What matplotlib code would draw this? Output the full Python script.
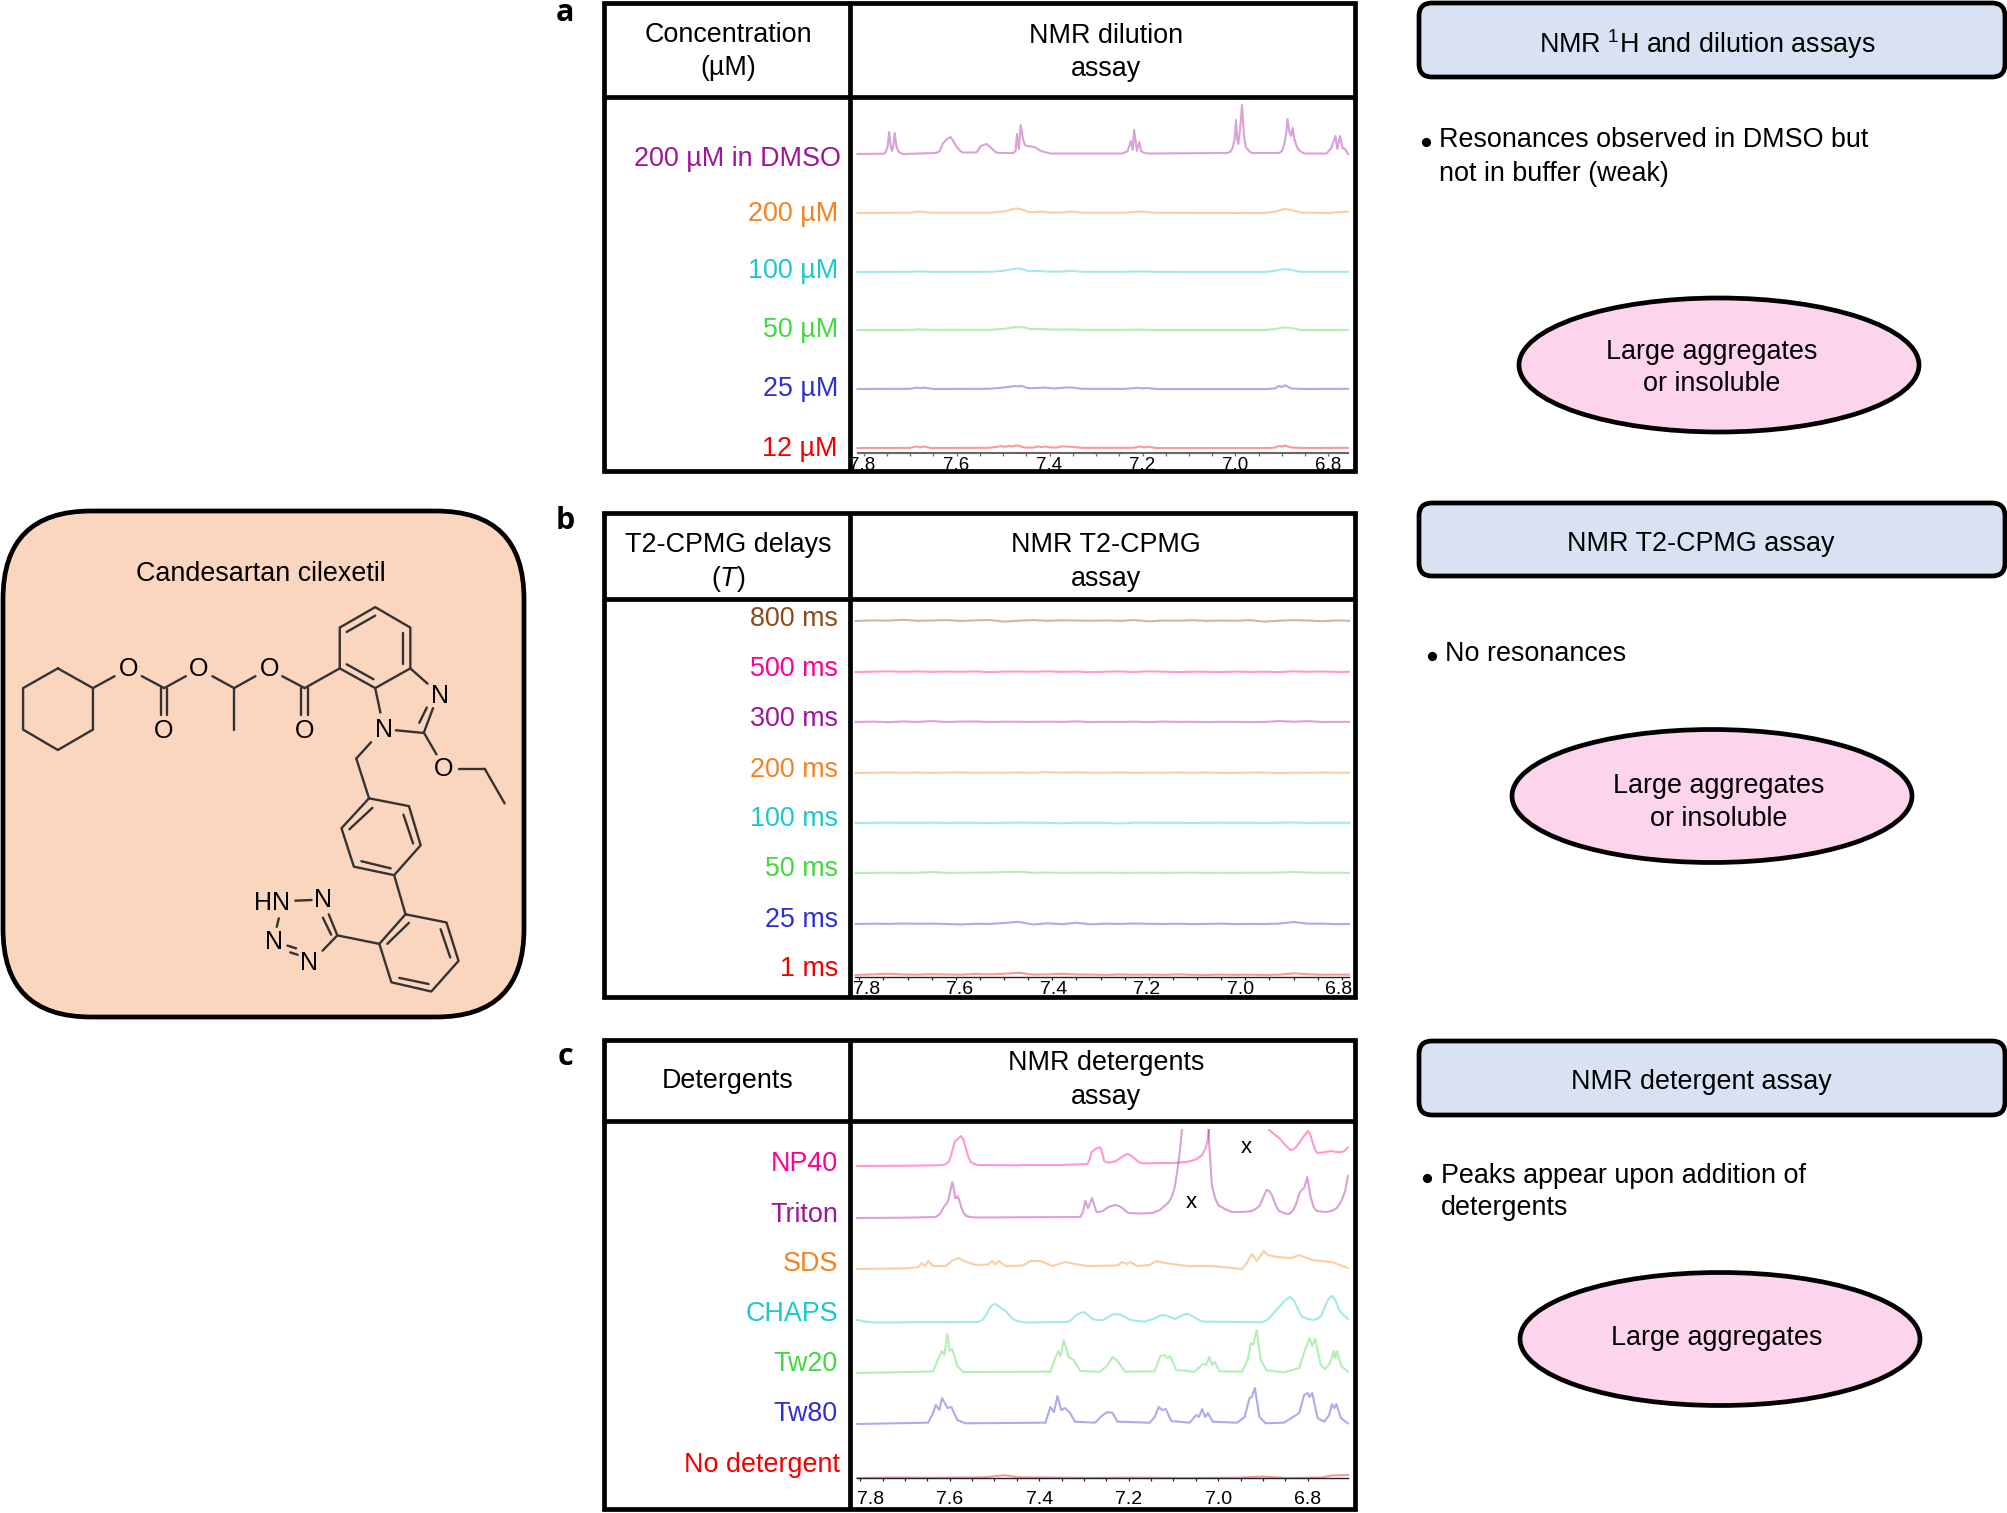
import matplotlib
matplotlib.use("Agg")
import numpy as np
import matplotlib.pyplot as plt
from matplotlib.patches import FancyBboxPatch, Ellipse, Rectangle

plt.rcParams['font.family'] = ['Liberation Sans', 'DejaVu Sans']
plt.rcParams['mathtext.fontset'] = 'custom'
plt.rcParams['mathtext.rm'] = 'Liberation Sans'
plt.rcParams['mathtext.it'] = 'Liberation Sans:italic'
plt.rcParams['mathtext.default'] = 'regular'

nan = float('nan')
PURPLE, ORANGE, CYAN, GREEN, BLUE, RED, PINK, BROWN = (
    '#A0149B', '#F5821F', '#1CC8C8', '#41D841', '#3030D0', '#F00000', '#FF0090', '#8B4A1E')

# ---------- Panel a: dilution ----------
a_labels = ['200 µM in DMSO', '200 µM', '100 µM', '50 µM', '25 µM', '12 µM']
a_colors = [PURPLE, ORANGE, CYAN, GREEN, BLUE, RED]
a_base = [154, 213, 272, 330, 389, 448]
a_label_y = [157, 212, 269, 328, 387, 447]

dmso_ppm = [7.813, 7.756, 7.752, 7.748, 7.745, 7.742, 7.739, 7.736, 7.733, 7.729, 7.724, 7.716, 7.644, 7.636, 7.630, 7.621, 7.613, 7.607, 7.601, 7.594, 7.587,
            7.558, 7.553, 7.548, 7.535, 7.523, 7.516, 7.510, 7.478, 7.473, 7.470, 7.466, 7.462, 7.457, 7.453, 7.448, 7.432, 7.419, 7.398, 7.243, 7.232,
            7.225, 7.221, 7.218, 7.212, 7.207, 7.203, 7.198, 7.192, 7.185, 7.018, 7.012, 7.007, 7.002, 6.999, 6.996, 6.994, 6.990, 6.986, 6.982, 6.978, 6.971, 6.965, 6.906,
            6.900, 6.895, 6.891, 6.888, 6.884, 6.880, 6.877, 6.873, 6.866, 6.858, 6.852, 6.804, 6.794, 6.785, 6.781, 6.775, 6.770, 6.764, 6.758]
dmso_h = [0, 0.3, 2, 8, 22, 9, 3, 8, 21, 7, 2, 0, 1, 3, 10, 15, 17, 13, 8, 4, 1.5,
          1.5, 4, 8, 10, 5, 2, 1, 1, 3, 20, 5, 29, 15, 9, 8, 7, 3, 0.5, 0.5, 3,
          13, 4, 24, 3, 12, 3, 1.5, 0.7, 0.5, 1, 2, 5, 14, 34, 14, 10, 25, 49, 20, 7, 3, 1, 1,
          3, 10, 20, 35, 22, 18, 26, 14, 5, 2, 0.5, 0.5, 6, 18, 5, 18, 6, 5, 0]
c200_ppm = [7.813, 7.70, 7.681, 7.655, 7.53, 7.499, 7.473, 7.462, 7.445, 7.43, 7.419, 7.40, 7.375, 7.355, 7.33,
            7.24, 7.205, 7.17, 6.94, 6.917, 6.895, 6.884, 6.86, 6.80, 6.758]
c200_h = [0, 0.3, 1.5, 0.3, 0.3, 1.5, 4.5, 4, 1, 1, 1.5, 0.5, 0.3, 1.5, 0.3,
          0.3, 1.5, 0.2, 0, 1, 4, 3.5, 0.5, 0, 1.5]
c100_ppm = [7.813, 7.70, 7.681, 7.655, 7.53, 7.499, 7.473, 7.462, 7.445, 7.42, 7.40, 7.375, 7.355, 7.33,
            7.24, 7.205, 7.17, 6.94, 6.917, 6.895, 6.884, 6.86, 6.758]
c100_h = [0, 0.2, 0.7, 0.1, 0.2, 1.2, 3.5, 3.2, 0.8, 1, 0.3, 0.3, 1.2, 0.2,
          0.2, 0.6, 0.1, 0, 1, 3, 2.5, 0.2, 0.2]
c50_ppm = [7.813, 7.70, 7.681, 7.655, 7.53, 7.499, 7.473, 7.455, 7.44, 7.42, 7.39, 7.355, 7.33,
           7.24, 7.205, 7.17, 6.94, 6.917, 6.895, 6.88, 6.86, 6.758]
c50_h = [0, 0.1, 0.6, 0.1, 0.2, 1, 3, 2.6, 0.8, 1, 0.4, 0.6, 0.1,
         0.1, 0.4, 0, 0, 0.8, 2.6, 2, 0, 0.1]
c25_ppm = [7.813, 7.70, 7.686, 7.678, 7.671, 7.65, 7.53, 7.505, 7.49, 7.483, 7.473, 7.467, 7.462, 7.445, 7.425,
           7.41, 7.39, 7.365, 7.352, 7.33, 7.24, 7.21, 7.20, 7.19, 7.17, 6.93, 6.915, 6.907, 6.90, 6.894, 6.88,
           6.85, 6.758]
c25_h = [0, 0.2, 1.5, 0.8, 1.5, 0, 0.2, 1.2, 2, 2.5, 3, 2.5, 3.2, 0.8, 1,
         1.5, 0.5, 1.5, 1.5, 0.2, 0.1, 1.2, 0.6, 1, 0, 0, 0.6, 3, 2, 3.7, 0.5,
         0, 0.2]
c12_ppm = [7.813, 7.70, 7.686, 7.678, 7.671, 7.655, 7.53, 7.514, 7.504, 7.495, 7.487, 7.480, 7.474, 7.467, 7.455,
           7.435, 7.424, 7.417, 7.41, 7.40, 7.385, 7.375, 7.365, 7.358, 7.33, 7.22, 7.205, 7.197, 7.187, 7.17,
           6.93, 6.915, 6.907, 6.90, 6.894, 6.88, 6.85, 6.758]
c12_h = [0, 0.1, 1.6, 0.7, 1.6, 0, 0.2, 1.2, 1.8, 1.2, 2.2, 1.4, 2.4, 2.4, 0.5,
         0.4, 1.6, 0.7, 1.6, 0.7, 0.4, 1.6, 1.4, 1.4, 0.2, 0.2, 1.5, 0.5, 1.3, 0,
         0, 0.4, 2, 1.4, 2.6, 0.5, 0, 0.2]
a_spectra = [(dmso_ppm, dmso_h), (c200_ppm, c200_h), (c100_ppm, c100_h),
             (c50_ppm, c50_h), (c25_ppm, c25_h), (c12_ppm, c12_h)]
a_tick_labels = ['7.8', '7.6', '7.4', '7.2', '7.0', '6.8']
a_label_ppm = [7.802, 7.6, 7.4, 7.2, 7.0, 6.8]

# ---------- Panel b: T2-CPMG ----------
b_labels = ['800 ms', '500 ms', '300 ms', '200 ms', '100 ms', '50 ms', '25 ms', '1 ms']
b_colors = [BROWN, PINK, PURPLE, ORANGE, CYAN, GREEN, BLUE, RED]
b_base = [621, 672, 722, 773, 823, 873, 924, 975]
b_label_y = [617, 667, 717, 768, 817, 867, 918, 967]
t2_ppm = [7.808, 7.77, 7.74, 7.71, 7.68, 7.65, 7.62, 7.59, 7.56, 7.53, 7.50, 7.47, 7.44, 7.41, 7.38, 7.35, 7.32,
          7.29, 7.26, 7.23, 7.20, 7.17, 7.14, 7.11, 7.08, 7.05, 7.02, 6.99, 6.96, 6.93, 6.90, 6.87, 6.84, 6.81, 6.785]
t2_800 = [0, 0.6, 0.4, 1.2, 0.2, 0.5, 0.9, 0.1, 0.6, 1.0, -0.6, 0.3, 0.9, 0.2, 0.7, 0.5, 0.2,
          0.6, 0.1, 0.9, -0.3, 0.5, 0.3, 0.8, 0.1, 0.5, 0.2, 0.9, -0.6, 0.3, 0.9, 0.4, -0.2, 0.6, 0.2]
t2_500 = [0, 0.3, 0.7, 0.2, 0.6, 0.1, 0.5, 0.2, 0.6, -0.1, 0.4, 0.5, 0.2, 0.7, 0.1, 0.5, -0.2,
          0.3, 0.6, 0.0, 0.7, 0.3, -0.1, 0.3, 0.2, 0.0, 0.4, 0.1, 0.3, -0.1, 0.7, 0.2, 0.5, 0.1, 0.2]
t2_300 = [0, 0.4, -0.2, 0.5, 0.1, 0.9, 0.0, 0.4, 0.5, 0.0, 0.3, 0.2, 0.1, 0.3, 0.1, 0.6, -0.1,
          0.2, 0.0, 0.3, -0.1, 0.4, 0.1, 0.2, -0.1, 0.2, 0.1, -0.1, 0.1, 0.9, 0.3, 0.8, 0.0, 0.1, 0.2]
t2_200 = [0, 0.3, 0.6, 0.2, 0.5, 0.1, 0.4, 0.6, 0.2, 0.4, 0.3, 0.5, 0.2, 0.9, 0.3, 0.7, 0.2,
          0.3, 0.6, 0.1, 0.4, 0.3, 0.5, 0.2, 0.5, 0.1, 0.1, 0.4, 0.5, -0.1, 0.3, 0.2, 0.5, 0.3, 0.3]
t2_100 = [0, 0.1, 0.4, 0.1, 0.2, 0.3, 0.0, 0.3, 0.1, 0.0, 0.2, 0.4, 0.3, 0.1, -0.3, 0.3, 0.2,
          0.1, -0.5, 0.3, 0.3, 0.1, 0.3, -0.2, 0.2, 0.3, 0.1, 0.2, 0.0, 0.3, 0.5, 0.0, 0.2, 0.1, 0.2]
t2_50 = [0, 0.1, 0.3, 0.1, 0.2, 1.0, 0.1, 0.2, 0.4, 0.5, 1.0, 1.3, 0.2, 0.5, 0.1, 0.3, 0.2,
         0.4, 0.1, 0.2, 0.3, 0.1, 0.3, 0.4, 0.1, 0.2, 0.1, 0.3, 0.2, 0.5, 1.1, 0.4, 0.2, 0.3, 0.1]
t2_25 = [0, 0.3, 0.1, 0.5, 0.2, 0.4, 0.0, -0.5, 0.2, 0.1, 1.0, 2.2, -0.5, 0.7, -0.2, 1.2, -0.3,
         0.3, 0.1, 0.5, 0.2, 0.0, 0.3, -0.1, 0.1, 0.4, -0.1, 0.1, 0.0, 0.4, 2.0, 0.3, 0.4, -0.2, 0.1]
t2_1 = [0, 0.6, 1.3, 0.5, 0.3, 0.8, 0.5, 0.3, 1.0, 0.6, 1.3, 2.2, 0.4, 0.6, 1.2, 0.5, 0.4,
        0.1, 0.5, 0.2, 0.4, 0.1, 0.6, 0.2, 0.0, 0.4, 0.1, 0.3, 0.0, 0.3, 1.7, 0.7, 0.2, 0.4, 0.3]
b_spectra = [t2_800, t2_500, t2_300, t2_200, t2_100, t2_50, t2_25, t2_1]
b_tick_labels = ['7.8', '7.6', '7.4', '7.2', '7.0', '6.8']
b_label_ppm = [7.786, 7.592, 7.398, 7.204, 7.010, 6.806]

# ---------- Panel c: detergents ----------
c_labels = ['NP40', 'Triton', 'SDS', 'CHAPS', 'Tw20', 'Tw80', 'No detergent']
c_colors = [PINK, PURPLE, ORANGE, CYAN, GREEN, BLUE, RED]
c_base = [1166, 1218, 1269, 1323, 1373, 1424, 1478]
c_label_y = [1162, 1213, 1262, 1312, 1362, 1412, 1463]
np40_ppm = [7.807, 7.70, 7.625, 7.61, 7.602, 7.596, 7.589, 7.582, 7.575, 7.57, 7.564, 7.558, 7.553, 7.544, 7.536,
            7.45, 7.44, 7.35, 7.292, 7.287, 7.283, 7.275, 7.270, 7.263, 7.258, 7.255, 7.248, 7.242, 7.228, 7.220,
            7.21, 7.203, 7.195, 7.187, 7.178, 7.169, 7.103, 7.07, 7.05, 7.036, 7.028, 7.024, 7.02, nan,
            6.886, 6.875, 6.864, 6.85, 6.84, 6.834, 6.826, 6.819, 6.81, 6.803, 6.799, 6.794, 6.788, 6.782, 6.778,
            6.76, 6.747, 6.735, 6.725, 6.718, 6.710]
np40_h = [0, 0.3, 0.7, 1.5, 4, 12, 24, 27, 30, 27, 18, 9, 4, 1.8, 1,
          0.7, 1.0, 1, 2, 7, 14, 17, 18, 18.7, 11, 5, 3.5, 3.5, 5, 7.7,
          10.5, 12, 10.5, 7.7, 4, 2.7, 3, 4, 6.5, 11, 18, 25, 36, nan,
          36, 32, 28, 21, 16.5, 16, 19, 23, 29, 33, 35, 31, 22, 15, 13,
          14, 15, 14, 14, 15, 18.6]
triton_ppm = [7.807, 7.70, 7.631, 7.622, 7.612, 7.606, 7.603, 7.598, 7.594, 7.590, 7.588, 7.585, 7.582, 7.578, 7.575,
              7.57, 7.564, 7.555, 7.542, 7.308, 7.302, 7.297, 7.291, 7.286, 7.282, 7.277, 7.272, 7.265, 7.258, 7.245,
              7.231, 7.222, 7.214, 7.207, 7.2, 7.175, 7.147, 7.13, 7.120, 7.11, 7.103, 7.097, 7.092, 7.086, 7.081, nan,
              7.022, 7.018, 7.014, 7.007, 7.0, 6.985, 6.969, 6.945, 6.925, 6.915, 6.908, 6.90, 6.892, 6.886, 6.880,
              6.872, 6.864, 6.85, 6.841, 6.832, 6.825, 6.819, 6.814, 6.808, 6.804, 6.801, 6.798, 6.794, 6.787, 6.78,
              6.76, 6.747, 6.735, 6.725, 6.717, 6.710]
triton_h = [0, 0.3, 1, 4, 11.7, 15, 18, 28, 36, 28, 20, 20, 22, 17, 12,
            6, 2.3, 1, 0.5, 1, 6, 17, 10, 15, 20, 13, 6, 6, 7, 11,
            13, 12, 10, 7, 5, 4.5, 5, 8, 12, 16, 22, 31, 45, 65, 88, nan,
            88, 60, 32, 20, 13, 9, 6, 6, 7, 9.5, 12, 20, 28, 27, 23,
            13, 7, 4.5, 4, 8, 15, 24, 28, 30, 36, 41, 33, 22, 11, 7,
            6, 7, 10, 17, 26, 42]
sds_ppm = [7.807, 7.692, 7.670, 7.662, 7.655, 7.648, 7.637, 7.609, 7.592, 7.579, 7.568, 7.542, 7.514, 7.505, 7.498,
           7.490, 7.475, 7.436, 7.42, 7.397, 7.370, 7.342, 7.320, 7.292, 7.225, 7.214, 7.205, 7.197, 7.181, 7.153,
           7.138, 7.120, 7.069, 7.014, 6.947, 6.936, 6.925, 6.914, 6.898, 6.889, 6.869, 6.836, 6.819, 6.791, 6.747, 6.710]
sds_h = [0, 0.7, 2, 6, 3, 8, 3, 3, 9, 11, 8, 4, 4.5, 8, 4.5,
         8, 3, 3.5, 8, 8, 3, 7, 5, 3, 3.5, 7, 5, 7, 3, 4,
         8, 6, 3, 3, 0, 6, 15, 8, 18, 14, 12, 11, 14, 9, 7, 1]
chaps_ppm = [7.807, 7.79, 7.770, 7.65, 7.536, 7.527, 7.520, 7.515, 7.511, 7.504, 7.498, 7.488, 7.475, 7.467, 7.459,
             7.445, 7.431, 7.336, 7.328, 7.320, 7.31, 7.301, 7.292, 7.281, 7.27, 7.258, 7.245, 7.235, 7.225, 7.212,
             7.197, 7.18, 7.164, 7.145, 7.13, 7.120, 7.108, 7.097, 7.085, 7.075, 7.067, 7.055, 7.036, 6.903, 6.89,
             6.876, 6.862, 6.85, 6.839, 6.83, 6.822, 6.814, 6.80, 6.786, 6.775, 6.769, 6.76, 6.752, 6.745, 6.737,
             6.73, 6.72, 6.710]
chaps_h = [3, 1.5, 0.5, 0.8, 1, 3, 7, 11, 15, 18, 19, 16, 12, 8, 4,
           1.5, 0.5, 1, 3, 7, 9.5, 11, 8.5, 4, 2.8, 3, 6, 8.5, 9, 7,
           3, 2, 1.5, 4, 7.5, 8, 6, 4, 6.5, 8.7, 9, 6, 1.5, 0.7, 3,
           10, 17, 23, 26, 22, 14, 7, 4, 3, 5, 8, 18, 25, 27, 22,
           13, 8, 4]
tw20_ppm = [7.807, 7.637, 7.625, 7.618, 7.612, 7.605, 7.600, 7.594, 7.583, 7.570, 7.375, 7.364, 7.357, 7.352, 7.345,
            7.334, 7.323, 7.308, 7.264, 7.247, 7.236, 7.225, 7.208, 7.142, 7.129, 7.120, 7.114, 7.107, 7.094, 7.053,
            7.034, 7.027, 7.020, 7.014, 7.008, 6.997, 6.947, 6.934, 6.927, 6.922, 6.914, 6.905, 6.892, 6.853, 6.819,
            6.806, 6.796, 6.790, 6.783, 6.771, 6.761, 6.750, 6.742, 6.739, 6.735, 6.725, 6.710]
tw20_h = [0, 1.5, 15, 22, 18, 39, 22, 24, 7, 1, 1.3, 15, 22, 17, 33,
          16, 13, 2, 1.3, 8, 16, 12, 1.3, 1.7, 17, 18, 15, 17, 3, 1.3,
          9, 8, 16, 8, 11, 1.7, 1.3, 13, 30, 28, 43, 13, 2.7, 0.7, 5,
          23, 35, 27, 34, 8, 4, 10, 22, 15, 22, 7, 1.3]
tw80_ppm = [7.807, 7.648, 7.637, 7.631, 7.623, 7.617, 7.605, 7.596, 7.583, 7.564, 7.386, 7.375, 7.367, 7.359, 7.351,
            7.342, 7.331, 7.320, 7.275, 7.258, 7.247, 7.236, 7.225, 7.153, 7.142, 7.133, 7.125, 7.117, 7.105, 7.064,
            7.049, 7.043, 7.036, 7.029, 7.023, 7.012, 6.958, 6.941, 6.930, 6.925, 6.918, 6.908, 6.894, 6.853, 6.819,
            6.808, 6.800, 6.796, 6.790, 6.778, 6.763, 6.752, 6.746, 6.741, 6.736, 6.726, 6.710]
tw80_h = [0, 1.3, 11, 19, 14, 26, 16, 17, 4, 0.7, 1.3, 17, 12, 28, 14,
          16, 11, 2.3, 1.3, 9, 12, 11, 2.3, 1.3, 7, 17, 14, 15, 3, 1.3,
          9, 7, 15, 7, 11, 2.3, 1.3, 7, 26, 27, 36, 7, 0.7, 1.3, 11,
          29, 31, 27, 31, 6, 2.3, 9, 20, 16, 20, 6, 0.7]
nodet_ppm = [7.807, 7.72, 7.64, 7.525, 7.49, 7.475, 7.447, 7.38, 7.29, 7.18, 7.08, 6.958, 6.903, 6.847, 6.769, 6.747, 6.710]
nodet_h = [0, 0.5, 0.2, 0.7, 2.2, 2.7, 0.7, 0.5, 0.1, 0.4, 0, 0.3, 1.5, 0, 0.5, 2.5, 3]
c_spectra = [(np40_ppm, np40_h), (triton_ppm, triton_h), (sds_ppm, sds_h), (chaps_ppm, chaps_h),
             (tw20_ppm, tw20_h), (tw80_ppm, tw80_h), (nodet_ppm, nodet_h)]
c_tick_labels = ['7.8', '7.6', '7.4', '7.2', '7.0', '6.8']
c_label_ppm = [7.776, 7.6, 7.4, 7.2, 7.0, 6.8]

major_ticks = [7.8, 7.6, 7.4, 7.2, 7.0, 6.8]
minor_ticks = [7.75, 7.7, 7.65, 7.55, 7.5, 7.45, 7.35, 7.3, 7.25, 7.15, 7.1, 7.05, 6.95, 6.9, 6.85]

# ---------- Molecule (skeletal formula, in crop coordinates) ----------
mol_bonds = [
    [(168,495),(270,553),(270,675),(168,735),(67,675),(67,553),(168,495)],
    [(270,553),(333,518)], [(412,518),(477,553)], [(467,553),(467,632)], [(486,553),(486,632)],
    [(477,553),(540,518)], [(617,518),(680,553)], [(680,553),(680,675)], [(680,553),(742,518)],
    [(820,518),(885,553)], [(875,553),(875,632)], [(894,553),(894,632)], [(885,553),(987,495)],
    [(987,495),(987,375),(1090,315),(1192,375),(1192,495),(1090,553),(987,495)],
    [(1007,388),(1090,340)], [(1170,390),(1170,482)], [(1007,483),(1085,527)],
    [(1192,495),(1242,540)], [(1258,612),(1232,682)], [(1240,610),(1218,655)],
    [(1090,553),(1105,625)], [(1150,677),(1232,685)], [(1232,685),(1268,748)],
    [(1333,790),(1408,790)], [(1408,790),(1466,892)], [(1078,712),(1035,760)], [(1035,760),(1072,877)],
    [(1072,877),(1188,900),(1222,1015),(1145,1103),(1028,1078),(992,965),(1072,877)],
    [(1015,968),(1082,905)], [(1172,925),(1200,1010)], [(1050,1062),(1135,1083)],
    [(1145,1103),(1178,1218)],
    [(1178,1218),(1297,1242),(1332,1355),(1253,1445),(1137,1418),(1102,1305),(1178,1218)],
    [(1125,1305),(1188,1243)], [(1280,1262),(1308,1345)], [(1160,1405),(1245,1423)],
    [(1102,1305),(980,1280)], [(980,1280),(937,1325)],
    [(858,1178),(905,1176)], [(810,1230),(804,1255)], [(835,1310),(860,1318)], [(843,1330),(865,1337)],
    [(955,1218),(980,1280)], [(938,1228),(962,1278)],
]
mol_atoms = [('O',375,498), ('O',476,678), ('O',578,498), ('O',782,498), ('O',885,678), ('N',1277,577),
             ('N',1115,675), ('O',1290,792), ('N',938,1175), ('HN',790,1185), ('N',797,1300), ('N',898,1360)]

# ---------- Figure ----------
W, H = 2008, 1513
fig = plt.figure(figsize=(W/100, H/100), dpi=100, facecolor='white')
ov = fig.add_axes([0, 0, 1, 1], zorder=5)
ov.set_xlim(0, W); ov.set_ylim(H, 0); ov.axis('off'); ov.patch.set_alpha(0)

FS = 19.4
LW = 3.4
px = lambda n: n * 0.72


def txt(x, y, s, dy=2.2, **kw):
    kw.setdefault('fontsize', FS)
    kw.setdefault('ha', 'center')
    kw.setdefault('va', 'center')
    kw.setdefault('color', 'black')
    ov.text(x, y + dy, s, **kw)


def spectrum_axes(x0, x1, ppm0, ppm1, y_axis, y_top, spine_col, spine_lw):
    ax = fig.add_axes([x0/W, 1 - y_axis/H, (x1-x0)/W, (y_axis-y_top)/H], zorder=1)
    ax.patch.set_alpha(0)
    ax.set_xlim(ppm0, ppm1); ax.set_ylim(y_axis, y_top)
    for s in ('top', 'left', 'right'):
        ax.spines[s].set_visible(False)
    ax.spines['bottom'].set_color(spine_col); ax.spines['bottom'].set_linewidth(spine_lw)
    ax.set_yticks([])
    ax.set_xticks(major_ticks); ax.set_xticklabels([])
    ax.set_xticks(minor_ticks, minor=True)
    ax.tick_params(axis='x', which='both', direction='out', length=2.4, width=0.9, color=spine_col)
    return ax


def tick_text(ax, ppms, labels, dy, fs):
    for p, l in zip(ppms, labels):
        ax.annotate(l, xy=(p, 0), xycoords=('data', 'axes fraction'), xytext=(0, -px(dy)),
                    textcoords='offset points', ha='center', va='center', fontsize=fs,
                    annotation_clip=False)


def panel_frame(y0, yh, y1):
    ov.add_patch(Rectangle((604, y0), 751, y1-y0, fc='none', ec='black', lw=LW))
    ov.plot([604, 1355], [yh, yh], color='black', lw=LW, solid_capstyle='butt')
    ov.plot([850, 850], [y0, y1], color='black', lw=LW, solid_capstyle='butt')


def draw_line(ax, xs, ys, base, col):
    ax.plot(xs, base - np.array(ys, dtype=float), color=col, lw=1.5, alpha=0.4,
            solid_joinstyle='round', clip_on=False)


# Left compound box
ov.add_patch(FancyBboxPatch((3, 511), 521, 506, boxstyle='round,pad=0,rounding_size=88',
                            fc='#FAD6BF', ec='black', lw=LW))
txt(261, 572, 'Candesartan cilexetil')
MX, MY = 2.905, 2.94
for b in mol_bonds:
    a = np.array(b, dtype=float)
    ov.plot(a[:, 0]/MX, 500 + a[:, 1]/MY, color='#333333', lw=1.7, solid_capstyle='round', solid_joinstyle='round')
for s, x, y in mol_atoms:
    txt(x/MX, 500 + y/MY, s, dy=0, fontsize=18)

# Panel letters
for s, y in [('a', 11), ('b', 519), ('c', 1055)]:
    txt(565, y, s, fontsize=22, fontweight='bold', family=['Open Sans', 'Liberation Sans'])

# Panel a
panel_frame(3, 97, 471)
axa = spectrum_axes(857.5, 1348, 7.813, 6.758, 453, 100, '#666666', 1.5)
for (xs, ys), base, col, lab, ly in zip(a_spectra, a_base, a_colors, a_labels, a_label_y):
    draw_line(axa, xs, ys, base, col)
    txt(841 if 'DMSO' in lab else 838, ly, lab, color=col, ha='right')
tick_text(axa, a_label_ppm, a_tick_labels, 12, 13.5)
txt(728, 33, 'Concentration'); txt(728, 66, '(µM)')
txt(1106, 34, 'NMR dilution'); txt(1106, 67, 'assay')

# Panel b
panel_frame(513, 599, 997)
axb = spectrum_axes(855.5, 1349, 7.808, 6.785, 977, 600, '#222222', 1.0)
for ys, base, col, lab, ly in zip(b_spectra, b_base, b_colors, b_labels, b_label_y):
    draw_line(axb, t2_ppm, ys, base, col)
    txt(838, ly, lab, color=col, ha='right')
tick_text(axb, b_label_ppm, b_tick_labels, 13, 14)
txt(728, 543, 'T2-CPMG delays'); txt(728, 577, '($\\mathit{T}$)')
txt(1106, 543, 'NMR T2-CPMG'); txt(1106, 577, 'assay')

# Panel c
panel_frame(1040, 1121, 1509)
axc = spectrum_axes(857, 1348, 7.807, 6.71, 1478, 1122, '#222222', 1.0)
for (xs, ys), base, col, lab, ly in zip(c_spectra, c_base, c_colors, c_labels, c_label_y):
    draw_line(axc, xs, ys, base, col)
    txt(840 if lab == 'No detergent' else 838, ly, lab, color=col, ha='right')
tick_text(axc, c_label_ppm, c_tick_labels, 21, 14)
txt(728, 1079, 'Detergents')
txt(1106, 1061, 'NMR detergents'); txt(1106, 1095, 'assay')
txt(1246, 1145, 'x', fontsize=16); txt(1191, 1200, 'x', fontsize=16)

# Right column
for y0, y1, s, tx, ty in [(3, 77, 'NMR $^{1}$H and dilution assays', 1707, 42),
                          (503, 576, 'NMR T2-CPMG assay', 1701, 542),
                          (1041, 1115, 'NMR detergent assay', 1701, 1080)]:
    ov.add_patch(FancyBboxPatch((1419, y0), 586, y1-y0, boxstyle='round,pad=0,rounding_size=13',
                                fc='#D9E2F3', ec='black', lw=LW))
    txt(tx, ty, s)

for cx, cy, w, h, lines in [(1719, 365, 400, 134, [(1712, 'Large aggregates', 350), (1712, 'or insoluble', 382)]),
                            (1712, 796, 400, 133, [(1719, 'Large aggregates', 784), (1719, 'or insoluble', 817)]),
                            (1720, 1339, 400, 133, [(1717, 'Large aggregates', 1336)])]:
    ov.add_patch(Ellipse((cx, cy), w, h, fc='#FCD5EC', ec='black', lw=LW))
    for tx, s, y in lines:
        txt(tx, y, s)

for bx, tx, rows in [(1426, 1439, [('Resonances observed in DMSO but', 138), ('not in buffer (weak)', 172)]),
                     (1432, 1445, [('No resonances', 652)]),
                     (1427, 1441, [('Peaks appear upon addition of', 1174), ('detergents', 1206)])]:
    ov.scatter([bx], [rows[0][1] + 4], s=44, color='black', linewidths=0)
    for s, y in rows:
        txt(tx, y, s, ha='left')

fig.savefig('out.png', dpi=100)
